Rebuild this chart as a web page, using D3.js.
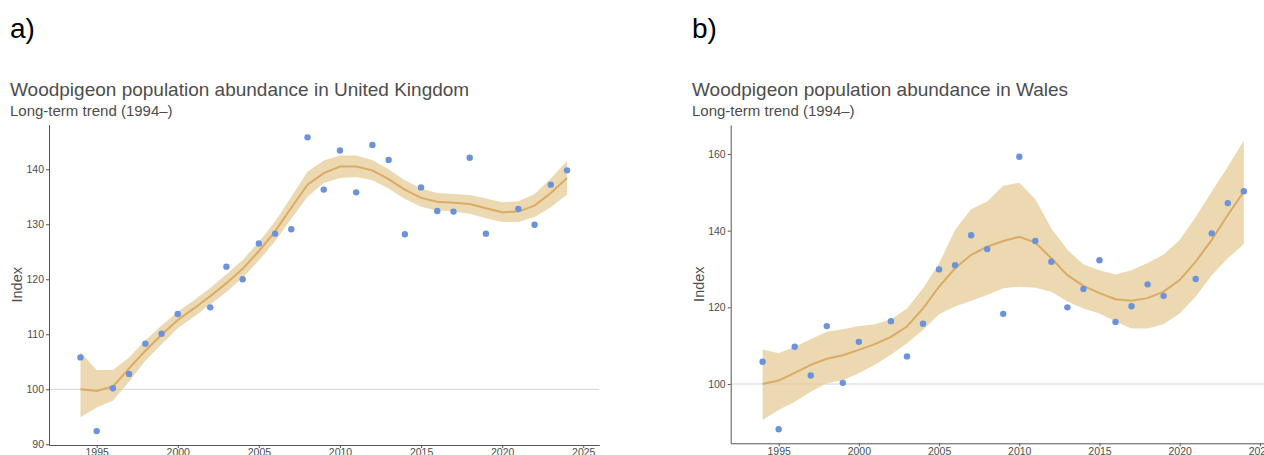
<!DOCTYPE html>
<html>
<head>
<meta charset="utf-8">
<script src="https://cdn.jsdelivr.net/npm/d3@7"></script>
<style>
  html, body { margin: 0; padding: 0; background: #fff; }
  svg { display: block; font-family: "Liberation Sans", Arial, sans-serif; }
</style>
</head>
<body>
<svg id="chart" width="1264" height="455"></svg>
<script>
// ---------- DATA ----------
const years = [1994,1995,1996,1997,1998,1999,2000,2001,2002,2003,2004,2005,2006,2007,2008,2009,
               2010,2011,2012,2013,2014,2015,2016,2017,2018,2019,2020,2021,2022,2023,2024];

// United Kingdom
const ukIndex = [105.8, 92.4, 100.2, 102.8, 108.3, 110.1, 113.7, null, 114.9, 122.3, 120.0, 126.5, 128.3, 129.1, 145.8, 136.3,
                 143.4, 135.8, 144.4, 141.7, 128.2, 136.7, 132.4, 132.3, 142.1, 128.3, null, 132.8, 129.9, 137.2, 139.8];
const ukTrend = [100.0, 99.7, 100.5, 103.8, 107.0, 109.9, 112.6, 114.7, 116.9, 119.3, 121.9, 125.1, 128.7, 133.0, 137.2, 139.3,
                 140.5, 140.5, 139.8, 138.2, 136.3, 134.8, 134.1, 133.9, 133.7, 132.9, 132.2, 132.3, 133.4, 135.7, 138.4];
const ukLower = [94.9, 96.7, 97.9, 101.4, 105.2, 108.2, 111.1, 113.2, 115.4, 117.7, 120.3, 123.4, 126.9, 131.0, 135.0, 137.5,
                 138.4, 138.6, 138.0, 136.5, 134.6, 133.2, 132.5, 132.3, 131.9, 131.1, 130.4, 130.4, 131.3, 133.1, 135.4];
const ukUpper = [106.8, 103.5, 103.5, 105.8, 108.9, 111.6, 114.1, 116.2, 118.4, 120.9, 123.5, 126.8, 130.5, 135.0, 139.6, 141.6,
                 142.5, 142.5, 141.7, 140.0, 138.0, 136.5, 135.7, 135.5, 135.3, 134.7, 134.0, 134.2, 135.5, 138.3, 141.5];

// Wales
const walesIndex = [105.8, 88.2, 109.7, 102.2, 115.1, 100.3, 111.0, null, 116.4, 107.2, 115.7, 129.9, 131.0, 138.8, 135.2, 118.3,
                    159.3, 137.3, 131.9, 120.0, 124.8, 132.3, 116.2, 120.3, 126.0, 123.0, null, 127.4, 139.3, 147.2, 150.3];
const walesTrend = [100.0, 100.9, 102.9, 105.0, 106.6, 107.5, 108.9, 110.4, 112.3, 115.0, 119.7, 125.4, 130.2, 133.7, 135.8, 137.3,
                    138.4, 136.9, 132.8, 128.4, 125.6, 123.7, 122.1, 121.7, 122.4, 124.1, 127.1, 131.9, 137.6, 144.1, 150.2];
const walesLower = [90.6, 93.2, 95.4, 98.0, 100.2, 101.0, 102.8, 105.0, 107.6, 110.6, 114.1, 118.2, 120.2, 121.7, 123.2, 125.0,
                    125.4, 125.1, 124.1, 121.5, 119.7, 118.4, 116.3, 114.5, 114.5, 115.6, 118.4, 122.8, 128.4, 132.8, 136.5];
const walesUpper = [109.0, 108.0, 109.7, 111.7, 113.6, 114.3, 115.1, 115.6, 116.9, 119.7, 125.0, 131.5, 140.2, 145.6, 147.6, 151.7,
                    152.5, 148.2, 140.6, 135.0, 131.2, 129.7, 128.6, 129.7, 131.6, 133.8, 137.6, 143.6, 150.2, 156.7, 163.5];

// Tick labels
const xTicks = [1995, 2000, 2005, 2010, 2015, 2020, 2025];
const ukYTicks = [90, 100, 110, 120, 130, 140];
const walesYTicks = [100, 120, 140, 160];

const panelLabels = ["a)", "b)"];
const titles = ["Woodpigeon population abundance in United Kingdom", "Woodpigeon population abundance in Wales"];
const subtitle = "Long-term trend (1994\u2013)";
const yLabel = "Index";
const baseline = 100;

// ---------- LAYOUT ----------
const panels = [
  { label: panelLabels[0], title: titles[0], idx: ukIndex, trend: ukTrend, lo: ukLower, hi: ukUpper, yTicks: ukYTicks,
    ox: 0, xDomain: [1992.06, 2025.99], xRange: [49, 599.3], yDomain: [89.87, 148.14], yRange: [445, 124.5] },
  { label: panelLabels[1], title: titles[1], idx: walesIndex, trend: walesTrend, lo: walesLower, hi: walesUpper, yTicks: walesYTicks,
    ox: 682, xDomain: [1992.01, 2026], xRange: [730.7, 1275.9], yDomain: [84.53, 167.57], yRange: [443.3, 125] }
];

const svg = d3.select("#chart");
const pointColor = "#6b93dc";
const ribbonColor = "#e4c992";
const lineColor = "#dbab63";
const textGrey = "#4d4d4d";

panels.forEach(p => {
  const g = svg.append("g");
  const x = d3.scaleLinear().domain(p.xDomain).range(p.xRange);
  const y = d3.scaleLinear().domain(p.yDomain).range(p.yRange);

  // panel letter, title, subtitle
  g.append("text").attr("x", p.ox + 10).attr("y", 38).attr("font-size", 28).attr("fill", "#000").text(p.label);
  g.append("text").attr("x", p.ox + 10).attr("y", 96).attr("font-size", 19).attr("fill", textGrey).text(p.title);
  g.append("text").attr("x", p.ox + 10).attr("y", 116).attr("font-size", 15).attr("fill", textGrey).text(subtitle);

  // reference line at 100
  g.append("line")
    .attr("x1", p.xRange[0]).attr("x2", p.xRange[1])
    .attr("y1", y(baseline)).attr("y2", y(baseline))
    .attr("stroke", "#d3d3d3").attr("stroke-width", 1);

  const rows = years.map((yr, i) => ({ yr, v: p.idx[i], t: p.trend[i], lo: p.lo[i], hi: p.hi[i] }));

  // ribbon
  g.append("path")
    .datum(rows)
    .attr("d", d3.area().x(d => x(d.yr)).y0(d => y(d.lo)).y1(d => y(d.hi)))
    .attr("fill", ribbonColor).attr("fill-opacity", 0.7);

  // trend line
  g.append("path")
    .datum(rows)
    .attr("d", d3.line().x(d => x(d.yr)).y(d => y(d.t)))
    .attr("fill", "none").attr("stroke", lineColor).attr("stroke-width", 2);

  // points
  g.selectAll("circle.pt")
    .data(rows.filter(d => d.v !== null))
    .join("circle")
    .attr("class", "pt")
    .attr("cx", d => x(d.yr)).attr("cy", d => y(d.v)).attr("r", 3.2)
    .attr("fill", pointColor);

  // axes
  const yAxis = d3.axisLeft(y).tickValues(p.yTicks).tickSize(3).tickSizeOuter(0).tickPadding(2);
  const xAxis = d3.axisBottom(x).tickValues(xTicks).tickFormat(d3.format("d")).tickSize(3).tickSizeOuter(0).tickPadding(1);

  const ya = g.append("g").attr("transform", `translate(${p.xRange[0]},0)`).call(yAxis);
  const xa = g.append("g").attr("transform", `translate(0,${p.yRange[0]})`).call(xAxis);
  [ya, xa].forEach(a => {
    a.select(".domain").attr("stroke", "#555").attr("stroke-width", 1);
    a.selectAll(".tick line").attr("stroke", "#555");
    a.selectAll(".tick text").attr("fill", textGrey).attr("font-size", 10.5)
      .attr("font-family", "Liberation Sans, Arial, sans-serif");
  });

  // y label
  const yMid = (p.yRange[0] + p.yRange[1]) / 2;
  g.append("text")
    .attr("transform", `translate(${p.ox + 21.5},${yMid}) rotate(-90)`)
    .attr("text-anchor", "middle").attr("font-size", 14.5).attr("fill", textGrey)
    .text(yLabel);
});
</script>
</body>
</html>
